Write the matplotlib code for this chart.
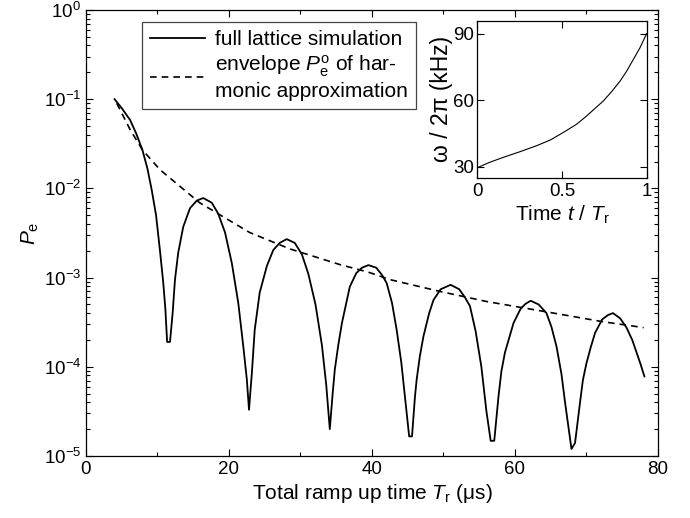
import matplotlib
matplotlib.use("Agg")

import matplotlib.pyplot as plt
from matplotlib.ticker import FixedLocator, LogLocator, NullFormatter

plt.rcParams["font.family"] = ["Liberation Sans", "DejaVu Sans"]
plt.rcParams["mathtext.fontset"] = "custom"
plt.rcParams["mathtext.rm"] = "Liberation Sans"
plt.rcParams["mathtext.it"] = "Liberation Sans:italic"
plt.rcParams["font.size"] = 13.5

# -- data --------------------------------------------------------------------
# full lattice simulation: ramp time (us), excitation probability
lattice_t = [4.0, 5.0, 6.15, 7.0, 7.9, 8.6, 9.2, 9.8, 10.35, 10.8, 11.1, 11.35, 11.75,
             12.12, 12.45, 12.9, 13.6, 14.55, 15.5, 16.4, 17.6, 18.5, 19.45, 20.4,
             21.3, 22.0, 22.5, 22.8,
             23.2, 23.6, 24.3, 25.3, 26.2, 27.1, 28.07, 29.2, 30.2, 31.1, 32.1,
             33.0, 33.6, 34.1,
             34.5, 34.8, 35.3, 35.8, 36.9, 37.8, 38.6, 39.5, 40.6, 41.4, 42.05,
             42.8, 43.45, 44.1, 44.6, 45.2, 45.6,
             46.0, 46.25, 46.7, 47.2, 48.0, 48.6, 49.6, 51.0, 52.2, 53.0, 53.7,
             54.5, 55.3, 56.0, 56.6, 57.1,
             57.7, 58.1, 58.6, 59.8, 60.8, 61.5, 62.2, 63.3, 64.4, 65.1, 65.8,
             66.5, 67.0, 67.9, 68.4,
             69.1, 69.5, 70.0, 70.6, 71.2, 72.2, 73.0, 73.7, 74.7, 75.6, 76.4,
             77.0, 77.6, 78.1]
lattice_p = [0.1, 0.0794, 0.0589, 0.0417, 0.0269, 0.0166, 0.00955, 0.00501, 0.0020, 8.9e-4, 4.5e-4, 1.9e-4, 1.9e-4,
             4.0e-4, 9.5e-4, 1.9e-3, 3.7e-3, 6.0e-3, 7.3e-3, 7.8e-3, 6.9e-3, 5.2e-3, 3.2e-3, 1.45e-3,
             5.2e-4, 1.7e-4, 7.2e-5, 3.3e-5,
             8.5e-5, 2.6e-4, 6.8e-4, 1.35e-3, 2.04e-3, 2.45e-3, 2.7e-3, 2.45e-3, 1.82e-3, 1.10e-3, 5.0e-4,
             1.74e-4, 6.3e-5, 2.0e-5,
             5.0e-5, 9.3e-5, 1.78e-4, 3.1e-4, 7.9e-4, 1.12e-3, 1.29e-3, 1.38e-3, 1.29e-3, 1.07e-3, 8.7e-4,
             5.2e-4, 2.6e-4, 1.12e-4, 4.7e-5, 1.66e-5, 1.66e-5,
             4.5e-5, 7.2e-5, 1.32e-4, 2.2e-4, 4.0e-4, 5.6e-4, 7.4e-4, 8.3e-4, 7.4e-4, 6.0e-4, 4.8e-4,
             2.5e-4, 1.0e-4, 3.2e-5, 1.48e-5, 1.48e-5,
             4.7e-5, 8.9e-5, 1.45e-4, 3.1e-4, 4.5e-4, 5.1e-4, 5.5e-4, 5.0e-4, 4.0e-4, 2.8e-4, 1.7e-4,
             8.3e-5, 4.0e-5, 1.2e-5, 1.4e-5,
             4.0e-5, 7.1e-5, 1.1e-4, 1.66e-4, 2.4e-4, 3.4e-4, 3.8e-4, 4.0e-4, 3.5e-4, 2.75e-4, 2.0e-4,
             1.45e-4, 1.05e-4, 7.8e-5]

# envelope of harmonic approximation
env_t = [4.3, 6.15, 7.9, 10.35, 15.9, 22.9, 28.5, 35.5, 39.5, 42.5, 49.5,
         56.0, 65.4, 72.3, 78.0]
env_p = [0.09, 0.046, 0.027, 0.0162, 6.9e-3, 3.2e-3, 2.1e-3, 1.4e-3, 1.15e-3,
         9.5e-4, 7.0e-4, 5.4e-4, 4.0e-4, 3.2e-4, 2.75e-4]

# inset: trap frequency during the ramp
ramp_t = [0.0, 0.075, 0.154, 0.252, 0.350, 0.43, 0.508, 0.587, 0.646, 0.744,
          0.793, 0.843, 0.882, 0.921, 0.96, 1.0]
ramp_w = [29.5, 32.0, 34.2, 36.75, 39.45, 42.0, 45.45, 49.2, 52.95, 59.7,
          63.9, 68.7, 73.2, 78.45, 83.7, 90.2]


def style_axes(ax):
    ax.tick_params(which="both", direction="in", top=True, right=True, width=0.8)
    ax.tick_params(which="major", length=5)
    ax.tick_params(which="minor", length=3)
    for sp in ax.spines.values():
        sp.set_linewidth(0.9)


fig = plt.figure(figsize=(6.9, 5.18), dpi=100)
ax = fig.add_axes([0.1246, 0.1197, 0.829, 0.861])

ax.plot(lattice_t, lattice_p, color="black", linewidth=1.3,
        label="full lattice simulation")
ax.plot(env_t, env_p, color="black", linewidth=1.2, linestyle=(0, (4, 3)),
        label="envelope $P_\\mathrm{e}^\\mathrm{o}$ of har-\nmonic approximation")
ax.set_yscale("log")
ax.set_xlim(0, 80)
ax.set_ylim(1e-5, 1)
ax.xaxis.set_major_locator(FixedLocator([0, 20, 40, 60, 80]))
ax.xaxis.set_minor_locator(FixedLocator([10, 30, 50, 70]))
ax.yaxis.set_major_locator(LogLocator(base=10, numticks=10))
ax.yaxis.set_minor_locator(LogLocator(base=10, subs=range(2, 10), numticks=20))
ax.yaxis.set_minor_formatter(NullFormatter())
style_axes(ax)
ax.set_xlabel("Total ramp up time $T_\\mathrm{r}$ (μs)", fontsize=15, labelpad=3)
ax.set_ylabel("$P_\\mathrm{e}$", fontsize=15, labelpad=2)

leg = ax.legend(loc="upper left", bbox_to_anchor=(0.098, 0.973), fontsize=15,
                handlelength=2.6, handletextpad=0.5, borderpad=0.4,
                labelspacing=0.2, borderaxespad=0, fancybox=False, framealpha=1)
leg.get_frame().set_edgecolor("#444444")
leg.get_frame().set_linewidth(0.9)

# -- inset -------------------------------------------------------------------
ins = fig.add_axes([0.6917, 0.657, 0.2455, 0.303])
ins.plot(ramp_t, ramp_w, color="black", linewidth=0.8)
ins.set_xlim(0, 1)
ins.set_ylim(25, 96)
ins.set_xticks([0, 0.5, 1])
ins.set_xticklabels(["0", "0.5", "1"])
ins.set_yticks([30, 60, 90])
style_axes(ins)
ins.tick_params(axis="y", pad=2)
ins.set_xlabel("Time $t$ / $T_\\mathrm{r}$", fontsize=15, labelpad=3)
ins.set_ylabel("ω / 2π (kHz)", fontsize=16.5, labelpad=0)

fig.savefig("out.png", dpi=100)
plt.close(fig)
